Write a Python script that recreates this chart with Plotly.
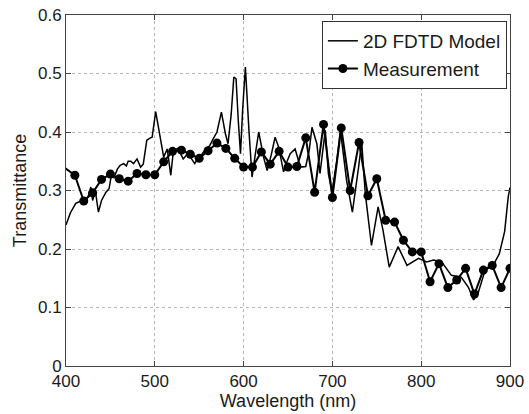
import plotly.graph_objects as go

# FDTD model (wavelength nm, transmittance)
model_wl = [400, 405, 411, 418, 422, 425, 428, 430, 433, 436.5, 440, 445, 448.5, 451, 454,
            458, 461, 465, 468, 470, 473, 476, 480, 484, 487, 489, 491, 495, 497, 501, 504,
            507, 510, 514, 518, 521, 526, 532, 537, 541, 545, 549, 553, 557, 562, 565, 570,
            575, 579.5, 582.5, 586, 589, 591.5, 594, 596.5, 599, 602, 606, 609.5, 613, 617,
            622.5, 626.5, 631, 635.5, 639.5, 645, 649, 652.5, 658, 664, 670, 674, 677, 682.5,
            686, 692, 695.5, 699.5, 705, 709, 716, 722.5, 729.5, 733, 737, 744, 751.5, 757,
            764, 774, 784, 797, 806, 814, 823, 834, 845, 853, 859, 864, 872, 881, 888, 894,
            898, 900]
model_t = [0.241, 0.262, 0.278, 0.283, 0.283, 0.29, 0.306, 0.283, 0.30, 0.263, 0.283, 0.297,
           0.303, 0.326, 0.322, 0.337, 0.343, 0.346, 0.342, 0.35, 0.350, 0.346, 0.354, 0.340,
           0.345, 0.369, 0.386, 0.39, 0.391, 0.435, 0.41, 0.386, 0.357, 0.371, 0.326, 0.369,
           0.372, 0.354, 0.363, 0.355, 0.346, 0.357, 0.362, 0.37, 0.377, 0.386, 0.40, 0.434,
           0.397, 0.38, 0.43, 0.494, 0.491, 0.42, 0.363, 0.44, 0.511, 0.403, 0.323, 0.36, 0.40,
           0.357, 0.334, 0.36, 0.391, 0.374, 0.332, 0.35, 0.363, 0.371, 0.340, 0.341, 0.37,
           0.408, 0.38, 0.329, 0.403, 0.329, 0.297, 0.352, 0.403, 0.317, 0.263, 0.340, 0.383,
           0.295, 0.206, 0.272, 0.232, 0.169, 0.204, 0.172, 0.184, 0.178, 0.181, 0.178, 0.155,
           0.152, 0.135, 0.113, 0.124, 0.164, 0.172, 0.192, 0.23, 0.289, 0.305]

# Measurement (first sample lies just left of the visible range)
meas_wl = [395] + [410 + 10 * i for i in range(50)]
meas_t = [0.343, 0.326, 0.282, 0.296, 0.319, 0.328, 0.320, 0.316, 0.329, 0.327, 0.327,
          0.349, 0.367, 0.369, 0.362, 0.355, 0.368, 0.381, 0.372, 0.355, 0.340, 0.340,
          0.366, 0.345, 0.367, 0.340, 0.341, 0.390, 0.297, 0.413, 0.288, 0.407, 0.300,
          0.382, 0.291, 0.320, 0.249, 0.246, 0.215, 0.195, 0.195, 0.144, 0.175, 0.134,
          0.147, 0.167, 0.123, 0.164, 0.172, 0.134, 0.167]

x_ticks = [400, 500, 600, 700, 800, 900]
y_ticks = [0, 0.1, 0.2, 0.3, 0.4, 0.5, 0.6]

TXT = "#1a1a1a"

fig = go.Figure()
fig.add_trace(go.Scatter(x=model_wl, y=model_t, mode="lines", name="2D FDTD Model",
                         line=dict(color="black", width=1.5)))
fig.add_trace(go.Scatter(x=meas_wl, y=meas_t, mode="lines+markers", name="Measurement",
                         line=dict(color="black", width=2),
                         marker=dict(color="black", size=9)))

axis_common = dict(showline=True, linecolor="#444", linewidth=1, mirror="allticks",
                   ticks="inside", ticklen=5, tickcolor="#444",
                   showgrid=True, gridcolor="#b5b5b5", griddash="dot", gridwidth=1,
                   zeroline=False, automargin=False,
                   tickfont=dict(size=17, color=TXT),
                   title_font=dict(size=18, color=TXT))

fig.update_xaxes(range=[400, 900], tickvals=x_ticks, ticktext=[str(v) for v in x_ticks],
                 title_text="Wavelength (nm)", title_standoff=0, **axis_common)
fig.update_yaxes(range=[0, 0.6], tickvals=y_ticks,
                 ticktext=[("0" if v == 0 else f"{v:g}") for v in y_ticks],
                 title_text="Transmittance", title_standoff=6, ticklabeloverflow="allow",
                 **axis_common)

fig.update_layout(
    width=529, height=414,
    margin=dict(l=66, r=19, t=15, b=48, autoexpand=False),
    paper_bgcolor="white", plot_bgcolor="white",
    font=dict(family="Liberation Sans, Arial, sans-serif", size=17, color=TXT),
    showlegend=True,
    legend=dict(x=0.993, y=0.983, xanchor="right", yanchor="top",
                bgcolor="white", bordercolor="#333", borderwidth=1,
                font=dict(size=19, color=TXT), tracegroupgap=0, itemwidth=30),
)

fig.write_html("out.html", config={"displayModeBar": False},
               post_script="document.body.style.margin='0';document.body.style.overflow='hidden';")
